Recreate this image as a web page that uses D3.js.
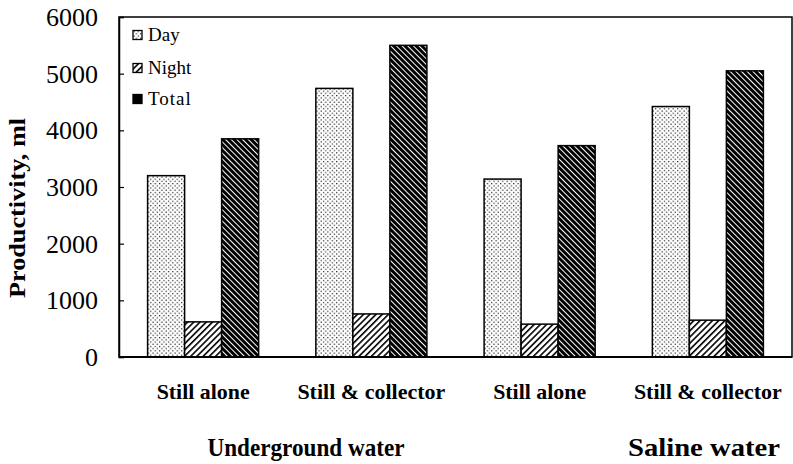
<!DOCTYPE html>
<html><head><meta charset="utf-8">
<script src="https://cdn.jsdelivr.net/npm/d3@7"></script>
<style>body{margin:0;background:#fff}svg{display:block}</style>
</head><body><svg id="c" width="793" height="464" font-family="'Liberation Serif','Times New Roman',Times,serif"></svg>
<script>
const categories = ["Still alone","Still & collector","Still alone","Still & collector"];
const seriesNames = ["Day","Night","Total"];
const day   = [3200, 4740, 3140, 4420];
const night = [620, 760, 580, 650];
const total = [3850, 5500, 3730, 5050];
const yTicks = [0,1000,2000,3000,4000,5000,6000];
const groupLabels = ["Underground water","Saline water"];

const FF = "'Liberation Serif','Times New Roman',Times,serif";
const svg = d3.select("#c");
const L=119, R=792, T=17, B=357;
const x0 = d3.scaleBand().domain(d3.range(categories.length)).range([L,R]).paddingInner(0.34).paddingOuter(0.17);
const x1 = d3.scaleBand().domain(seriesNames).range([0,x0.bandwidth()]);
const y = d3.scaleLinear().domain([0,6000]).range([B,T]);

const defs = svg.append("defs");
const pd = defs.append("pattern").attr("id","pDay").attr("patternUnits","userSpaceOnUse").attr("width",4.4).attr("height",4.4);
pd.append("rect").attr("width",4.4).attr("height",4.4).attr("fill","#fff");
pd.append("rect").attr("x",0.5).attr("y",0.5).attr("width",1.1).attr("height",1.1).attr("fill","#000");
pd.append("rect").attr("x",2.7).attr("y",2.7).attr("width",1.1).attr("height",1.1).attr("fill","#000");
const pn = defs.append("pattern").attr("id","pNight").attr("patternUnits","userSpaceOnUse").attr("width",4.4).attr("height",4.4).attr("patternTransform","rotate(45)");
pn.append("rect").attr("width",4.4).attr("height",4.4).attr("fill","#fff");
pn.append("rect").attr("x",0).attr("y",0).attr("width",1.6).attr("height",4.4).attr("fill","#000");
const pt = defs.append("pattern").attr("id","pTotal").attr("patternUnits","userSpaceOnUse").attr("width",4).attr("height",4).attr("patternTransform","rotate(-45)");
pt.append("rect").attr("width",4).attr("height",4).attr("fill","#000");
pt.append("rect").attr("x",0).attr("y",0).attr("width",1).attr("height",4).attr("fill","#fff");
const fills = {Day:"url(#pDay)", Night:"url(#pNight)", Total:"url(#pTotal)"};

const data = categories.map((c,i)=>({i, vals:[{k:"Day",v:day[i]},{k:"Night",v:night[i]},{k:"Total",v:total[i]}]}));

// frame
svg.append("rect").attr("x",L).attr("y",T).attr("width",R-L).attr("height",B-T).attr("fill","none").attr("stroke","#000").attr("stroke-width",1.5);

// bars
const g = svg.append("g").selectAll("g").data(data).join("g").attr("transform",d=>`translate(${x0(d.i)},0)`);
g.selectAll("rect").data(d=>d.vals).join("rect")
  .attr("x",d=>x1(d.k)).attr("width",x1.bandwidth())
  .attr("y",d=>y(d.v)).attr("height",d=>B-y(d.v))
  .attr("fill",d=>fills[d.k]).attr("stroke","#000").attr("stroke-width",1.5);

// y axis
const ya = svg.append("g").attr("transform",`translate(${L},0)`)
  .call(d3.axisRight(y).tickValues(yTicks).tickSize(5).tickFormat(""));
ya.select(".domain").attr("stroke","#000").attr("stroke-width",1.5);
ya.selectAll(".tick line").attr("stroke","#000").attr("stroke-width",1.2);
svg.append("g").selectAll("text").data(yTicks).join("text")
  .attr("x",98).attr("y",d=>y(d)+9).attr("text-anchor","end")
  .attr("font-family",FF).attr("font-size",26).text(d=>d);

// x axis line
svg.append("line").attr("x1",L).attr("x2",R).attr("y1",B).attr("y2",B).attr("stroke","#000").attr("stroke-width",2);

// category labels
svg.append("g").selectAll("text").data(categories).join("text")
  .attr("x",(d,i)=>x0(i)+x0.bandwidth()/2).attr("y",399).attr("text-anchor","middle")
  .attr("font-family",FF).attr("font-size",21).attr("font-weight","bold")
  .attr("textLength",d=>d.length>12?148:93).attr("lengthAdjust","spacingAndGlyphs")
  .text(d=>d);

// group labels
svg.append("text").attr("x",306).attr("y",456).attr("text-anchor","middle")
  .attr("font-family",FF).attr("font-size",25).attr("font-weight","bold").attr("textLength",197).attr("lengthAdjust","spacingAndGlyphs").text(groupLabels[0]);
svg.append("text").attr("x",704).attr("y",456).attr("text-anchor","middle")
  .attr("font-family",FF).attr("font-size",25).attr("font-weight","bold").attr("textLength",152).attr("lengthAdjust","spacingAndGlyphs").text(groupLabels[1]);

// y title
svg.append("text").attr("transform","translate(25,208) rotate(-90)").attr("text-anchor","middle")
  .attr("font-family",FF).attr("font-size",24).attr("font-weight","bold").attr("textLength",180).attr("lengthAdjust","spacingAndGlyphs")
  .text("Productivity, ml");

// legend
const lg = svg.append("g").selectAll("g").data(seriesNames).join("g")
  .attr("transform",(d,i)=>`translate(133,${[35,68,99][i]})`);
lg.append("rect").attr("x",0).attr("y",-4.5).attr("width",9).attr("height",9)
  .attr("fill",d=>d==="Total"?"#000":fills[d]).attr("stroke","#000").attr("stroke-width",1.3);
lg.append("text").attr("x",15).attr("y",6).attr("font-family",FF).attr("font-size",19)
  .attr("letter-spacing",d=>d==="Total"?"1px":"0px").text(d=>d);
</script></body></html>
